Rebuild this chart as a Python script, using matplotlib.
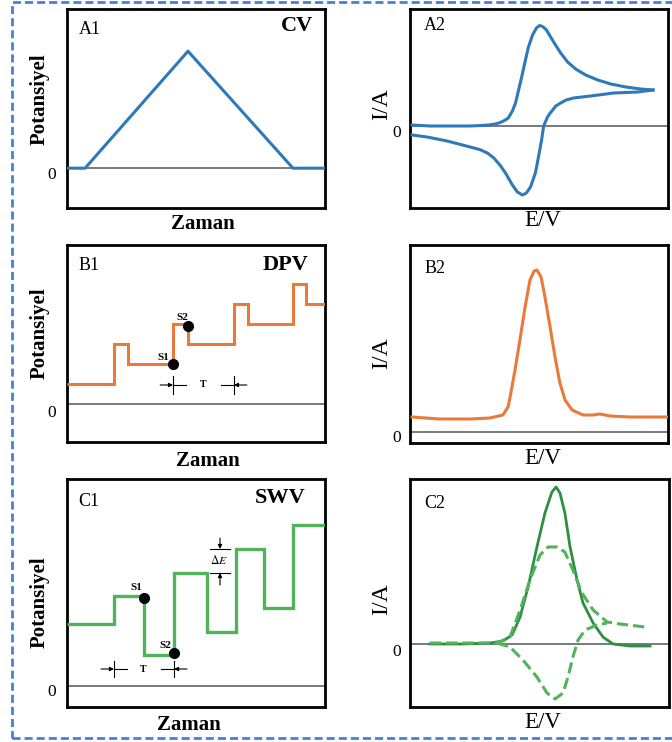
import numpy as np
import matplotlib.pyplot as plt
from matplotlib.patches import Rectangle

plt.rcParams['font.family'] = ['Liberation Serif', 'DejaVu Serif']
plt.rcParams['mathtext.fontset'] = 'stix'

# --- A1 : CV, potentiel triangulaire
cv_t = [0, 0.7, 4.69, 8.76, 10]
cv_e = [0, 0, 2.94, 0, 0]

# --- A2 : voltammogramme cyclique (aller puis retour)
cv_aller_e = [0.08, 0.78, 1.56, 2.33, 2.75, 3.05, 3.31, 3.50, 3.66, 3.81, 3.97, 4.09, 4.20,
              4.32, 4.44, 4.59, 4.75, 4.90, 5.02, 5.14, 5.29, 5.45, 5.64, 5.84, 6.11, 6.42,
              6.81, 7.28, 7.78, 8.37, 8.95, 9.42]
cv_aller_i = [0.1, 0, 0, 0, 0.05, 0.1, 0.2, 0.35, 0.55, 0.8, 1.5, 2.3, 3.5,
              4.8, 6.2, 7.9, 9.1, 9.8, 10.05, 9.95, 9.6, 8.9, 8.1, 7.3, 6.4, 5.7,
              5.1, 4.6, 4.2, 3.9, 3.7, 3.6]
cv_retour_e = [9.42, 8.83, 7.90, 7.00, 6.34, 6.05, 5.84, 5.65, 5.53, 5.42, 5.33, 5.18, 5.10,
               4.98, 4.86, 4.67, 4.51, 4.36, 4.16, 3.97, 3.70, 3.50, 3.25, 3.00, 2.70, 2.33,
               1.44, 0.66, 0.08]
cv_retour_i = [3.6, 3.4, 3.3, 3.0, 2.8, 2.6, 2.3, 2.0, 1.6, 1.25, 0.9, 0, -1.4,
               -3.1, -4.7, -6.1, -6.7, -6.9, -6.6, -5.9, -4.7, -3.95, -3.2, -2.7, -2.35, -2.1,
               -1.5, -1.1, -0.9]

# --- B1 : DPV, escalier + impulsions
dpv_bords = [0, 1.82, 2.36, 4.11, 4.69, 6.47, 7.02, 8.76, 9.26, 10]
dpv_niveaux = [1, 3, 2, 4, 3, 5, 4, 6, 5]
dpv_tau_y = 0.95

# --- B2 : pic DPV
dpv_e = [0.08, 1.16, 2.33, 3.10, 3.60, 3.80, 3.88, 4.07, 4.26, 4.46, 4.65, 4.81, 4.92,
         5.08, 5.23, 5.43, 5.62, 5.81, 6.01, 6.28, 6.71, 7.09, 7.36, 7.75, 8.53, 9.96]
dpv_i = [1.5, 1.3, 1.3, 1.4, 1.7, 2.5, 3.5, 6.2, 9.2, 12.5, 15.2, 16.1, 16.2,
         15.5, 13.5, 10.5, 7.5, 4.9, 3.2, 2.2, 1.7, 1.7, 1.8, 1.6, 1.5, 1.5]

# --- C1 : SWV, escalier + signal carré
swv_bords = [0, 1.82, 2.98, 4.15, 5.43, 6.55, 7.64, 8.76, 10]
swv_niveaux = [6.2, 9.0, 3.1, 11.3, 5.4, 13.7, 7.8, 16.1]
swv_tau_y = 1.7
swv_de_x = 5.93

# --- C2 : courant net (trait plein), aller et retour (tirets)
swv_net_e = [0.77, 2.05, 3.09, 3.59, 3.94, 4.25, 4.56, 4.90, 5.21, 5.48, 5.64, 5.79, 5.98,
             6.18, 6.45, 6.68, 7.07, 7.45, 7.84, 8.49, 9.27]
swv_net_i = [0, 0, 0.1, 0.3, 0.9, 2.7, 5.7, 9.7, 13.1, 15.2, 15.7, 15.1, 13.1,
             9.7, 6.4, 4.1, 2.1, 0.7, 0, -0.2, -0.2]
swv_av_e = [0.77, 3.36, 3.86, 4.25, 4.63, 5.02, 5.33, 5.68, 5.98, 6.29, 6.64, 7.07, 7.61,
            8.11, 9.07]
swv_av_i = [0.1, 0.1, 0.7, 3.4, 6.4, 8.9, 9.7, 9.7, 9.2, 7.4, 5.1, 3.4, 2.2, 2.0, 1.7]
swv_ar_e = [3.36, 3.86, 4.36, 4.90, 5.29, 5.60, 5.91, 6.10, 6.29, 6.49, 6.76, 7.22, 7.61]
swv_ar_i = [0.1, -0.3, -1.6, -3.3, -4.9, -5.5, -4.9, -3.3, -1.3, 0.4, 1.4, 1.9, 2.1]

bleu = '#3079b8'
orange = '#e97a3b'
vert = '#2f8f40'
vert_clair = '#52b35c'

W, H = 672, 742
fig = plt.figure(figsize=(W / 100, H / 100), dpi=100)


def boite(x0, y0, x1, y1):
    return [x0 / W, 1 - y1 / H, (x1 - x0) / W, (y1 - y0) / H]


def texte(x, y, s, **kw):
    fig.text(x / W, 1 - y / H, s, ha='center', va='center', **kw)


def cadre(ax, ylim, dx0=-15, dy0=-7):
    ax.set_xlim(0, 10)
    ax.set_ylim(ylim)
    ax.set_xticks([])
    ax.set_yticks([])
    for s in ax.spines.values():
        s.set_linewidth(2)
        s.set_color('black')
    ax.axhline(0, color='#555555', lw=1.1, zorder=1)
    ax.annotate('0', xy=(0, 0), xycoords=('axes fraction', 'data'), xytext=(dx0, dy0),
                textcoords='offset pixels', ha='center', va='center', fontsize=12.5,
                annotation_clip=False)


def fleche(ax, x0, y0, x1, y1):
    ax.annotate('', xy=(x1, y1), xytext=(x0, y0),
                arrowprops=dict(arrowstyle='-|>', color='black', lw=0.8,
                                mutation_scale=6, shrinkA=0, shrinkB=0))


def repere_tau(ax, x, y, sens, h):
    # trait vertical + flèche qui arrive sur le trait + petit prolongement
    ax.plot([x, x], [y - h, y + h], color='black', lw=0.8)
    ax.plot([x, x + sens * 0.5], [y, y], color='black', lw=0.8)
    fleche(ax, x - sens * 0.5, y, x, y)


# ---------------- A1
ax = fig.add_axes(boite(67, 9, 325, 208))
cadre(ax, (-1, 4))
ax.plot(cv_t, cv_e, color=bleu, lw=2.2, zorder=3)

# ---------------- A2
ax = fig.add_axes(boite(410, 9, 668, 208))
cadre(ax, (-8.2, 11.7), dx0=-13)
ax.plot(cv_aller_e, cv_aller_i, color=bleu, lw=2.2, zorder=3, solid_joinstyle='round')
ax.plot(cv_retour_e, cv_retour_i, color=bleu, lw=2.2, zorder=3, solid_joinstyle='round')

# ---------------- B1
ax = fig.add_axes(boite(67, 245, 325, 442))
cadre(ax, (-1.9, 7.95), dy0=-9)
ax.stairs(dpv_niveaux, dpv_bords, baseline=None, color=orange, lw=2.2, zorder=3)
s1 = (dpv_bords[3], dpv_niveaux[2])
s2 = (dpv_bords[4], dpv_niveaux[3] - 0.1)
ax.plot(*s1, 'o', color='black', ms=7, zorder=4)
ax.plot(*s2, 'o', color='black', ms=7, zorder=4)
ax.annotate('S1', xy=s1, xytext=(-10, 6), textcoords='offset pixels', ha='center',
            va='center', fontsize=8, fontweight='bold')
ax.annotate('S2', xy=s2, xytext=(-6, 8), textcoords='offset pixels', ha='center',
            va='center', fontsize=8, fontweight='bold')
repere_tau(ax, dpv_bords[3], dpv_tau_y, 1, 0.45)
repere_tau(ax, dpv_bords[5], dpv_tau_y, -1, 0.45)
ax.text((dpv_bords[3] + dpv_bords[5]) / 2, dpv_tau_y, 'T', ha='center', va='center',
        fontsize=7, fontweight='bold')

# ---------------- B2
ax = fig.add_axes(boite(410, 245, 668, 443))
cadre(ax, (-1.1, 18.7), dx0=-13, dy0=-6)
ax.plot(dpv_e, dpv_i, color=orange, lw=2.2, zorder=3, solid_joinstyle='round')

# ---------------- C1
ax = fig.add_axes(boite(67, 479, 325, 707))
cadre(ax, (-2.1, 20.7), dy0=-6)
ax.stairs(swv_niveaux, swv_bords, baseline=None, color=vert_clair, lw=2.4, zorder=3)
s1 = (swv_bords[2], swv_niveaux[1] - 0.2)
s2 = (swv_bords[3], swv_niveaux[2] + 0.2)
ax.plot(*s1, 'o', color='black', ms=7, zorder=4)
ax.plot(*s2, 'o', color='black', ms=7, zorder=4)
ax.annotate('S1', xy=s1, xytext=(-8, 11), textcoords='offset pixels', ha='center',
            va='center', fontsize=8, fontweight='bold')
ax.annotate('S2', xy=s2, xytext=(-9, 7), textcoords='offset pixels', ha='center',
            va='center', fontsize=8, fontweight='bold')
repere_tau(ax, swv_bords[1], swv_tau_y, 1, 0.8)
repere_tau(ax, swv_bords[3], swv_tau_y, -1, 0.8)
ax.text((swv_bords[1] + swv_bords[3]) / 2 - 0.05, swv_tau_y, 'T', ha='center',
        va='center', fontsize=7, fontweight='bold')
haut, bas = swv_niveaux[5], swv_niveaux[3]
ax.plot([swv_de_x - 0.39, swv_de_x + 0.39], [haut, haut], color='black', lw=0.8)
ax.plot([swv_de_x - 0.39, swv_de_x + 0.39], [bas, bas], color='black', lw=0.8)
fleche(ax, swv_de_x, haut + 1.1, swv_de_x, haut)
fleche(ax, swv_de_x, bas - 1.2, swv_de_x, bas)
ax.text(swv_de_x - 0.05, (haut + bas) / 2, r'$\Delta E$', ha='center', va='center',
        fontsize=8.5)

# ---------------- C2
ax = fig.add_axes(boite(410, 479, 669, 707))
cadre(ax, (-6.3, 16.5), dx0=-13, dy0=-8)
ax.plot(swv_net_e, swv_net_i, color=vert, lw=2, zorder=3, solid_joinstyle='round')
ax.plot(swv_av_e, swv_av_i, color=vert_clair, lw=2.2, ls='--', zorder=3)
ax.plot(swv_ar_e, swv_ar_i, color=vert_clair, lw=2.2, ls='--', zorder=3)

# ---------------- textes
for nom, x, y in [('A1', 90, 30), ('B1', 89, 266), ('C1', 89, 501),
                  ('A2', 435, 25), ('B2', 435, 268), ('C2', 435, 503)]:
    texte(x, y, nom, fontsize=13)
for nom, x, y in [('CV', 297, 26), ('DPV', 286, 265), ('SWV', 280, 498)]:
    texte(x, y, nom, fontsize=16, fontweight='bold')
for y in [99, 333, 602]:
    texte(40, y, 'Potansiyel', fontsize=15, fontweight='bold', rotation=90)
for x, y in [(203, 224), (208, 461), (189, 725)]:
    texte(x, y, 'Zaman', fontsize=15, fontweight='bold')
for y in [104, 353, 599]:
    texte(382, y, 'I/A', fontsize=17, rotation=90)
for y in [221, 458, 723]:
    texte(543, y, 'E/V', fontsize=16.5)

# cadre en tirets autour de la figure
fig.add_artist(Rectangle((12 / W, 1 - 738 / H), (675 - 12) / W, (738 - 2) / H,
                         transform=fig.transFigure, fill=False, lw=2,
                         ls=(0, (2.9, 1.45)), ec='#4a7fd4'))

fig.savefig('out.png', dpi=100)
